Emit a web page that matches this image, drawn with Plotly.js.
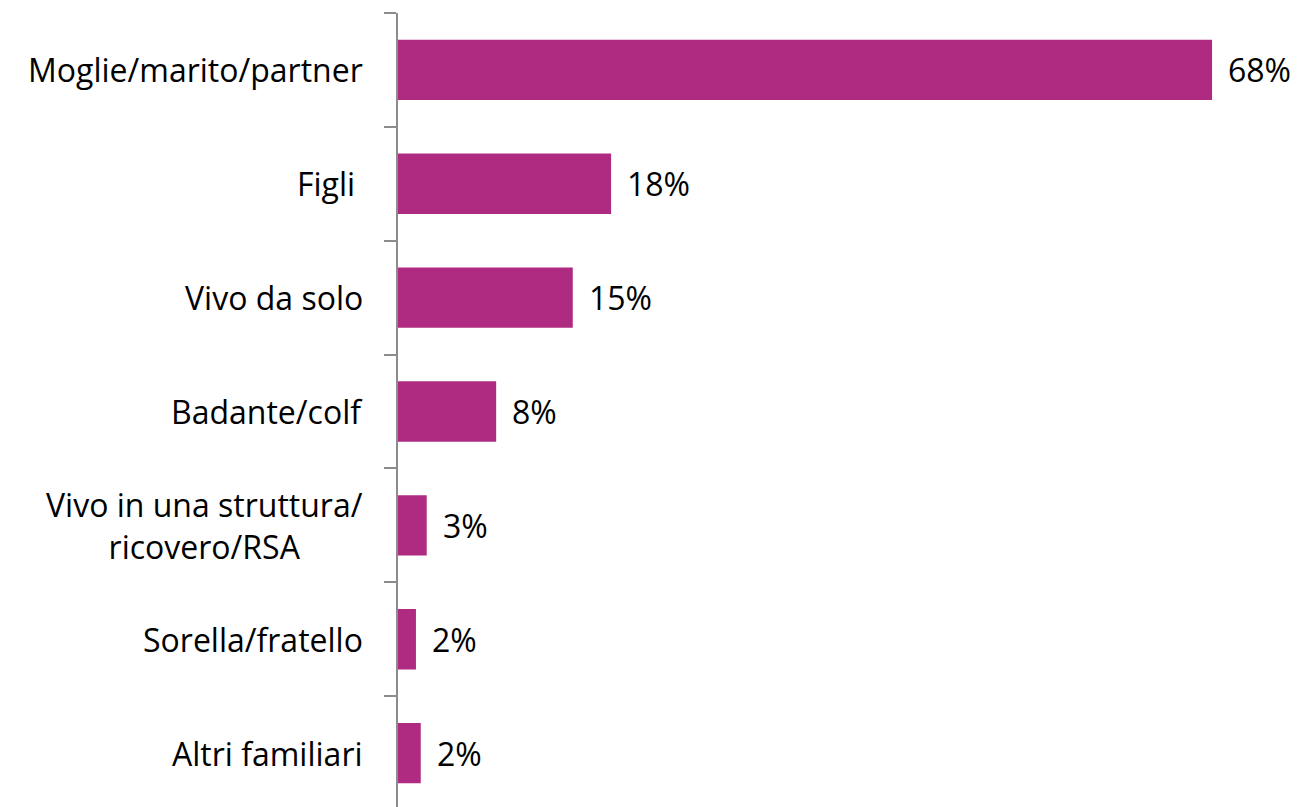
<!DOCTYPE html>
<html>
<head>
<meta charset="utf-8">
<script src="https://cdn.plot.ly/plotly-3.0.1.min.js"></script>
<style>html,body{margin:0;padding:0;background:#fff;overflow:hidden}#chart{width:1298px;height:810px}</style>
</head>
<body>
<div id="chart"></div>
<script>
const categories = ["Moglie/marito/partner", "Figli ", "Vivo da solo", "Badante/colf", "Vivo in una struttura/<br>ricovero/RSA", "Sorella/fratello", "Altri familiari"];
const values = [68, 17.8, 14.6, 8.2, 2.4, 1.5, 1.9];
const valueLabels = ["68%", "18%", "15%", "8%", "3%", "2%", "2%"];

const FONT = "'Open Sans', Lato, sans-serif";
const FS = 32;
const ids = categories.map((c, i) => "c" + i);

const trace = {
  type: "bar",
  orientation: "h",
  y: ids,
  x: values,
  width: 0.53,
  marker: {color: "#AF2B82"},
  hoverinfo: "skip"
};

const annotations = [];
ids.forEach((id, i) => {
  annotations.push({
    x: values[i], y: id, xref: "x", yref: "y",
    text: valueLabels[i], showarrow: false,
    xanchor: "left", xshift: 14,
    font: {family: FONT, size: FS, color: "#000"}
  });
  annotations.push({
    x: 0, y: id, xref: "paper", yref: "y",
    text: categories[i], showarrow: false,
    xanchor: "right", xshift: -33, align: "center",
    font: {family: FONT, size: FS, color: "#000"}
  });
});

const layout = {
  width: 1298, height: 810,
  margin: {l: 398, r: 62, t: 13, b: 0, pad: 0},
  paper_bgcolor: "#fff", plot_bgcolor: "#fff",
  showlegend: false,
  xaxis: {visible: false, range: [0, 70], fixedrange: true},
  yaxis: {
    type: "category",
    autorange: "reversed",
    range: [6.5, -0.5],
    showline: true, linecolor: "#8c8c8c", linewidth: 2,
    ticks: "outside", tickson: "boundaries", ticklen: 12, tickcolor: "#8c8c8c", tickwidth: 2,
    showticklabels: false, showgrid: false, zeroline: false
  },
  annotations: annotations
};

Plotly.newPlot("chart", [trace], layout, {staticPlot: true, displayModeBar: false});
</script>
</body>
</html>
